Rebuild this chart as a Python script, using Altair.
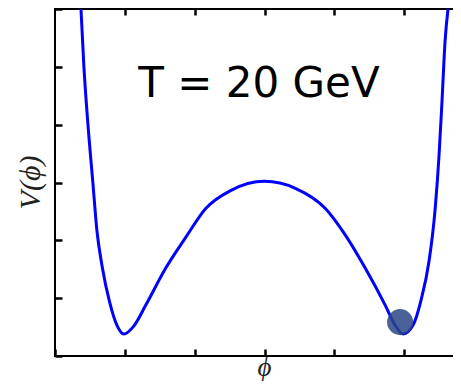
import altair as alt
import pandas as pd

# Potential curve V(phi)
phi = [-1.314, -1.293, -1.264, -1.229, -1.2, -1.164, -1.107, -1.057, -1.007, -0.936,
       -0.85, -0.707, -0.564, -0.421, -0.243, 0.0, 0.221, 0.436, 0.579, 0.721,
       0.864, 0.936, 0.993, 1.064, 1.121, 1.179, 1.221, 1.25, 1.271, 1.293, 1.314]
V = [6.0, 5.0, 4.0, 3.0, 2.17, 1.57, 0.914, 0.534, 0.38, 0.517,
     0.88, 1.52, 2.05, 2.55, 2.86, 3.02, 2.90, 2.55, 2.09, 1.52,
     0.88, 0.53, 0.38, 0.534, 0.966, 1.655, 2.52, 3.48, 4.41, 5.45, 6.0]

ball_phi = [0.971]
ball_V = [0.586]

label_text = ["T = 20 GeV"]
label_phi = [-0.04]
label_V = [4.47]

x_ticks = [-1.5, -1.0, -0.5, 0.0, 0.5, 1.0]
x_top_ticks = [-1.0, -0.5, 0.0, 0.5, 1.0]
y_ticks = [0, 1, 2, 3, 4, 5, 6]

curve = pd.DataFrame({"phi": phi, "V": V})
ball = pd.DataFrame({"phi": ball_phi, "V": ball_V})
label = pd.DataFrame({"phi": label_phi, "V": label_V, "t": label_text})

xscale = alt.Scale(domain=[-1.5, 1.5], nice=False, zero=False)
yscale = alt.Scale(domain=[0, 6], nice=False, zero=False)

serif = "Liberation Serif, DejaVu Serif, serif"

xaxis = alt.Axis(values=x_ticks, labels=False, domain=False, grid=False,
                 ticks=True, tickSize=7, tickWidth=2.5, tickColor="black",
                 offset=-7, title="ϕ", titleFont=serif,
                 titleFontStyle="italic", titleFontWeight="normal",
                 titleFontSize=27, titleColor="#222222",
                 titleBaseline="alphabetic", titleAlign="center",
                 titleX=209, titleY=26)
xaxis_top = alt.Axis(orient="top", values=x_top_ticks, labels=False, domain=False,
                     grid=False, ticks=True, tickSize=6, tickWidth=2.5,
                     tickColor="black", offset=-6, title=None)
yaxis = alt.Axis(values=y_ticks, labels=False, domain=False, grid=False,
                 ticks=True, tickSize=7, tickWidth=2.5, tickColor="black",
                 offset=-7, title="V(ϕ)", titleFont=serif,
                 titleFontStyle="italic", titleFontWeight="normal",
                 titleFontSize=30, titleColor="#222222", titleAngle=270,
                 titleBaseline="alphabetic", titleAlign="center",
                 titleX=-23, titleY=173)

line = alt.Chart(curve).mark_line(color="#0000ff", strokeWidth=3,
                                  interpolate="monotone").encode(
    x=alt.X("phi:Q", scale=xscale, axis=xaxis),
    y=alt.Y("V:Q", scale=yscale, axis=yaxis),
)

dot = alt.Chart(ball).mark_point(filled=True, shape="circle", size=680,
                                 color="#2a4785", opacity=0.85).encode(
    x=alt.X("phi:Q", scale=xscale, axis=xaxis_top),
    y=alt.Y("V:Q", scale=yscale),
)

txt = alt.Chart(label).mark_text(font="DejaVu Sans", fontSize=42, color="black",
                                 align="center", baseline="alphabetic").encode(
    x=alt.X("phi:Q", scale=xscale, axis=None),
    y=alt.Y("V:Q", scale=yscale),
    text="t:N",
)

chart = alt.layer(line, dot, txt).resolve_axis(x="independent").properties(
    width=419, height=347,
    autosize=alt.AutoSizeParams(type="none"),
    padding={"left": 47, "top": 1, "right": -21, "bottom": 25},
    background="white",
).configure_view(stroke="black", strokeWidth=2)

chart.save("out.html", embed_options={"renderer": "svg", "actions": False})
